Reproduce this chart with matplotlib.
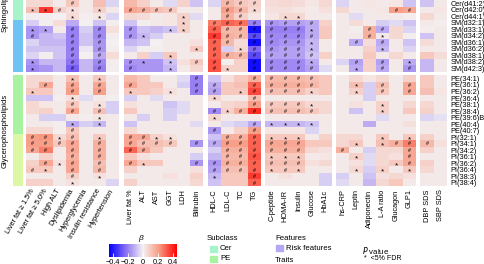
import numpy as np
import matplotlib.pyplot as plt
from matplotlib.colors import LinearSegmentedColormap, ListedColormap, Normalize
from matplotlib.patches import Rectangle
import matplotlib as mpl

plt.rcParams['font.family'] = ['Liberation Sans', 'DejaVu Sans']
plt.rcParams['font.size'] = 5.3

# ---- data ----
lipids = ['Cer(d41:2)', 'Cer(d42:0)', 'Cer(d44:1)', 'SM(d32:1)', 'SM(d33:1)',
          'SM(d34:2)', 'SM(d36:1)', 'SM(d36:2)', 'SM(d38:1)', 'SM(d38:2)',
          'SM(d42:3)',
          'PE(34:1)', 'PE(36:1)', 'PE(36:2)', 'PE(36:4)', 'PE(38:1)', 'PE(38:4)',
          'PE(39:6)B', 'PE(40:4)', 'PE(40:7)', 'PI(32:1)', 'PI(34:1)', 'PI(34:2)',
          'PI(36:1)', 'PI(36:2)', 'PI(36:4)', 'PI(38:3)', 'PI(38:4)']
row_blocks = [('Sphingolipids', 11), ('Glycerophospholipids', 17)]

col_groups = [
    ['Liver fat ≥ 1.5%', 'Liver fat ≥ 5.0%', 'High ALT', 'Dyslipidemia',
     'Hyperglycemia', 'Insulin resistance', 'Hypertension'],
    ['Liver fat %', 'ALT', 'AST', 'GGT', 'LDH', 'Bilirubin'],
    ['HDL-C', 'LDL-C', 'TC', 'TG'],
    ['C-peptide', 'HOMA-IR', 'Insulin', 'Glucose', 'HbA1c'],
    ['hs-CRP', 'Leptin', 'Adiponectin', 'L-A ratio', 'Glucagon', 'GLP1'],
    ['DBP SDS', 'SBP SDS'],
]

beta = [
    [0.06, 0.06, 0.02, 0.10, 0.02, 0.12, -0.05, 0.14, 0.08, 0.02, -0.04, 0.08, -0.08, -0.05, 0.14, 0.10, 0.08, 0.05, 0.06, 0.05, 0.03, 0.06, -0.05, 0.02, 0.03, 0.02, 0.03, -0.08, -0.08, 0.02],
    [0.12, 0.36, 0.08, 0.04, 0.02, 0.08, 0.02, 0.18, 0.16, 0.12, 0.10, 0.02, 0.02, 0.02, 0.20, 0.14, 0.06, 0.04, 0.04, 0.03, 0.02, 0.04, 0.06, 0.02, 0.02, 0.03, 0.20, 0.18, 0.02, 0.03],
    [0.01, 0.01, 0.00, 0.05, 0.01, 0.03, -0.05, 0.06, 0.05, 0.02, 0.03, 0.08, -0.04, 0.02, 0.16, 0.08, 0.03, 0.03, 0.06, 0.06, 0.02, 0.02, 0.02, -0.04, 0.02, 0.02, 0.02, 0.01, 0.06, 0.02],
    [-0.06, 0.01, 0.05, -0.12, 0.00, -0.08, 0.01, -0.08, 0.01, 0.02, 0.03, 0.08, 0.02, 0.26, 0.30, 0.28, -0.20, -0.16, -0.14, -0.14, -0.12, 0.08, 0.02, 0.05, 0.02, -0.06, -0.04, -0.08, 0.02, 0.01],
    [-0.16, -0.14, 0.02, -0.20, -0.06, -0.18, 0.04, -0.16, -0.08, -0.10, -0.08, 0.08, 0.02, 0.30, 0.14, 0.14, -0.42, -0.20, -0.20, -0.20, -0.12, 0.10, 0.02, 0.01, 0.16, -0.12, 0.06, -0.05, 0.01, 0.02],
    [-0.16, -0.10, -0.08, -0.20, -0.08, -0.18, 0.01, -0.16, -0.10, -0.06, 0.02, 0.02, 0.02, 0.36, 0.16, 0.14, -0.30, -0.18, -0.18, -0.18, -0.12, 0.10, 0.02, 0.02, 0.16, 0.02, 0.06, 0.01, -0.08, 0.02],
    [-0.05, -0.10, -0.10, -0.20, -0.08, -0.16, 0.00, -0.10, -0.08, 0.00, 0.02, 0.02, 0.04, 0.30, 0.14, 0.05, -0.42, -0.18, -0.16, -0.16, -0.10, 0.02, 0.02, -0.12, 0.05, -0.12, 0.02, -0.08, 0.05, 0.02],
    [-0.08, -0.08, -0.08, -0.20, -0.02, -0.16, 0.01, -0.05, 0.01, 0.01, 0.02, 0.02, 0.10, 0.30, -0.06, 0.06, -0.24, -0.16, -0.14, -0.14, -0.10, 0.02, 0.02, 0.02, 0.08, -0.10, 0.02, -0.05, 0.02, 0.02],
    [-0.05, 0.01, -0.08, -0.20, 0.00, -0.12, 0.05, 0.02, 0.08, -0.06, 0.10, 0.02, 0.02, 0.30, 0.16, 0.14, -0.30, -0.14, -0.14, -0.14, -0.08, 0.08, 0.02, 0.02, 0.10, 0.02, 0.06, 0.02, 0.10, 0.05],
    [-0.16, -0.10, -0.10, -0.22, -0.10, -0.18, 0.01, -0.16, -0.16, -0.16, -0.08, 0.04, 0.10, 0.32, 0.01, 0.08, -0.42, -0.18, -0.18, -0.18, -0.12, 0.02, -0.05, -0.14, 0.08, -0.14, 0.02, -0.12, -0.10, 0.02],
    [-0.18, -0.16, -0.10, -0.26, -0.10, -0.20, 0.01, -0.18, -0.16, -0.16, -0.10, 0.02, 0.06, 0.32, 0.08, 0.08, -0.42, -0.18, -0.18, -0.18, -0.14, -0.04, 0.02, -0.12, 0.08, -0.12, 0.02, -0.16, -0.10, 0.02],
    [0.06, 0.06, 0.02, 0.12, 0.02, 0.10, 0.02, 0.14, 0.10, 0.02, 0.02, -0.04, -0.20, -0.08, 0.04, 0.10, 0.16, 0.14, 0.14, 0.14, 0.12, 0.10, 0.02, 0.06, 0.03, 0.06, 0.02, 0.08, 0.10, 0.02],
    [0.06, 0.18, 0.02, 0.18, 0.02, 0.18, 0.02, 0.18, 0.10, 0.10, 0.02, -0.06, -0.20, -0.12, 0.10, 0.12, 0.30, 0.16, 0.16, 0.16, 0.14, 0.10, 0.02, 0.12, -0.06, 0.12, 0.02, 0.18, 0.10, 0.02],
    [0.10, 0.10, 0.02, 0.20, 0.02, 0.20, 0.02, 0.10, 0.10, 0.08, 0.04, 0.02, -0.20, -0.14, 0.10, 0.10, 0.34, 0.12, 0.12, 0.12, 0.08, 0.10, 0.02, 0.08, -0.06, 0.10, 0.02, 0.18, 0.12, 0.03],
    [-0.08, -0.08, 0.01, 0.04, -0.04, 0.02, 0.01, -0.06, 0.02, -0.04, 0.02, 0.02, 0.02, 0.06, 0.02, 0.02, 0.12, 0.02, 0.02, 0.02, 0.02, 0.02, 0.02, 0.02, -0.06, 0.02, 0.02, 0.02, 0.02, 0.02],
    [0.06, 0.03, 0.02, 0.10, 0.02, 0.04, -0.06, 0.04, 0.02, 0.02, -0.08, -0.04, 0.02, 0.02, 0.06, 0.08, 0.20, 0.10, 0.10, 0.10, 0.06, 0.06, 0.02, 0.04, 0.02, 0.08, 0.02, 0.06, 0.06, 0.02],
    [0.06, 0.08, 0.02, 0.18, 0.02, 0.12, -0.06, 0.10, 0.02, 0.02, -0.06, -0.04, 0.02, -0.18, 0.08, 0.16, 0.38, 0.12, 0.12, 0.12, 0.10, 0.06, 0.02, -0.08, 0.02, 0.08, 0.02, 0.10, 0.08, 0.02],
    [0.02, -0.06, -0.06, 0.02, 0.01, 0.03, 0.02, 0.02, -0.06, 0.02, -0.06, 0.02, 0.02, 0.06, 0.02, 0.02, 0.02, 0.02, 0.02, 0.02, 0.02, 0.02, 0.02, 0.02, 0.02, -0.04, 0.02, 0.02, -0.05, -0.03],
    [0.02, 0.02, 0.01, -0.12, -0.06, -0.10, 0.02, -0.08, 0.02, 0.02, 0.02, 0.02, -0.04, 0.02, -0.04, -0.06, -0.12, -0.10, -0.10, -0.10, -0.08, 0.02, 0.02, 0.02, -0.12, 0.02, 0.02, 0.04, 0.02, 0.02],
    [0.06, 0.06, 0.01, 0.10, 0.02, 0.02, 0.02, 0.06, 0.02, 0.02, 0.02, 0.02, 0.02, -0.16, 0.02, 0.08, 0.20, 0.03, 0.03, 0.03, -0.05, 0.02, 0.02, 0.02, 0.02, 0.02, 0.02, 0.02, 0.02, 0.02],
    [0.20, 0.22, 0.06, 0.12, 0.02, 0.10, 0.02, 0.18, 0.18, 0.08, 0.04, 0.02, 0.02, -0.08, 0.16, 0.16, 0.30, 0.10, 0.10, 0.10, 0.02, 0.08, 0.06, 0.06, 0.02, 0.10, 0.02, 0.10, 0.08, 0.02],
    [0.20, 0.20, 0.10, 0.18, 0.02, 0.16, 0.02, 0.18, 0.12, 0.12, 0.10, 0.02, -0.16, -0.12, 0.20, 0.20, 0.30, 0.18, 0.18, 0.18, 0.10, 0.10, 0.06, 0.10, 0.02, 0.12, 0.16, 0.26, 0.14, 0.04],
    [0.18, 0.26, 0.02, 0.18, 0.02, 0.16, 0.02, 0.30, 0.18, 0.10, 0.02, 0.02, 0.02, -0.06, 0.16, 0.16, 0.30, 0.16, 0.16, 0.16, 0.06, 0.04, 0.16, 0.02, -0.06, 0.06, 0.06, 0.18, 0.08, 0.02],
    [0.02, 0.08, 0.02, 0.16, 0.02, 0.16, 0.02, 0.10, 0.04, 0.02, 0.02, 0.02, -0.06, -0.10, 0.14, 0.14, 0.32, 0.10, 0.10, 0.10, 0.02, 0.03, 0.02, 0.08, -0.04, 0.06, 0.04, 0.18, 0.02, 0.02],
    [0.08, 0.18, 0.04, 0.18, 0.02, 0.12, 0.02, 0.18, 0.10, 0.10, 0.02, 0.02, -0.16, -0.16, 0.16, 0.16, 0.30, 0.12, 0.12, 0.12, 0.04, 0.06, 0.02, 0.04, -0.04, 0.06, 0.10, 0.18, 0.08, 0.02],
    [0.10, 0.10, 0.02, 0.18, 0.02, 0.14, 0.02, 0.08, 0.02, 0.02, 0.02, 0.02, 0.04, -0.14, 0.12, 0.12, 0.30, 0.10, 0.10, 0.10, 0.02, 0.02, 0.02, 0.06, -0.06, 0.08, 0.02, 0.10, 0.06, 0.02],
    [0.02, 0.02, 0.02, 0.08, 0.02, 0.04, 0.02, 0.02, 0.02, 0.02, 0.04, 0.02, 0.08, -0.10, 0.10, 0.10, 0.36, 0.02, 0.04, 0.02, 0.02, -0.06, -0.06, 0.02, -0.08, 0.04, 0.06, 0.04, 0.02, 0.02],
    [0.08, 0.08, 0.02, 0.04, 0.02, 0.02, -0.05, 0.08, 0.02, 0.02, 0.02, 0.02, 0.06, -0.08, 0.10, 0.10, 0.30, 0.02, 0.02, 0.02, 0.02, -0.06, -0.04, 0.02, -0.10, 0.06, 0.10, 0.02, 0.02, 0.02],
]

# '*' = <5% FDR, '#' = stronger; groups separated by spaces
marks = [
    '...#... ...... .### ..... ...... ..',
    '**#*.*. ####.. .##* ..... ....## ..',
    '...*.*. ....*. .##. .**.. ...... ..',
    '....... ....*. #### ####. ...... ..',
    '**.#.#. #..**. #### ###*. ..##.. ..',
    '#..#.#. #*.... #### ####. ..#*.. ..',
    '...#.#. ...... ##.# ###*. .#.#.. ..',
    '...#.#. .....* #.*# ###*. ...*.. ..',
    '...#.#. ...*.. #### ####. ...... ..',
    '*..#.#. #*.*.# #..# ###*. .#.#.* ..',
    '*..#.#. #..*.. #*.# ####. .*.#.# ..',
    '...*.*. .....# ...# ####. ...... ..',
    '.#.#.#. #....# #..# ####. .*.#.# ..',
    '*..#.#. *..*.# #.*# ###*. .*.#.# ..',
    '...*... ...... *..# ..... ...... ..',
    '...#.*. ...... ...# ###*. ...*.. ..',
    '...#.#. ...... #*## ####. ...*.. ..',
    '.....*. ...... *... ..... ...... ..',
    '...*.*. ...... ...# ****. ...... ..',
    '...#... ...... #..# ..... ...... ..',
    '##*#.*. ##**.. .### ***.. ...*.* ..',
    '####.#. ####.# #### ###.. .*.*## #.',
    '##.#.#. ##.... .### ###.. #....# ..',
    '...#.#. ...... .### ***.. .*...# ..',
    '.#*#.#. #*...# #### ###.. ....*# ..',
    '#*.#.#. ...... #### *#*.. .*.*.* ..',
    '...#.*. ...... *..# ..... ...... ..',
    '...*... ...... ...# ..... ...... ..',
]

subclass_colors = {'Cer': '#a9f3cb', 'SM': '#6fc3f2', 'PE': '#a8f2a2', 'PI': '#dcf8a4'}

# ---- layout helpers (pixel boxes, origin top-left) ----
W, H = 485, 264
def box(x0, y0, w, h):
    return [x0 / W, 1 - (y0 + h) / H, w / W, h / H]

cmap = LinearSegmentedColormap.from_list(
    'beta', ['#0000ff', '#8c70f2', '#f4f1f3', '#f8957c', '#ff0000'])
norm = Normalize(-0.45, 0.45)

B = np.array(beta)
M = [m.replace(' ', '') for m in marks]
columns = [c for g in col_groups for c in g]

gx, gy = 0.33, 0.54
xl, pos = [], 0.0
for g in col_groups:
    for _ in g:
        xl.append(pos)
        pos += 1
    pos += gx
xmax = pos - gx
yt, pos = [], 0.0
for _, n in row_blocks:
    for _ in range(n):
        yt.append(pos)
        pos += 1
    pos += gy
ymax = pos - gy
xl, yt = np.array(xl), np.array(yt)

fig = plt.figure(figsize=(4.85, 2.64), dpi=100)
ax = fig.add_axes(box(26, 0, 421, 186))

r0 = 0
for _, n in row_blocks:
    c0 = 0
    for g in col_groups:
        k = len(g)
        ax.pcolormesh(xl[c0] + np.arange(k + 1), yt[r0] + np.arange(n + 1),
                      B[r0:r0 + n, c0:c0 + k], cmap=cmap, norm=norm)
        c0 += k
    r0 += n

for i, row in enumerate(M):
    for j, m in enumerate(row):
        if m == '.':
            continue
        if m == '*':
            ax.text(xl[j] + 0.5, yt[i] + 0.5 + 0.35, m, ha='center', va='center',
                    fontsize=6, color='black')
        else:
            ax.text(xl[j] + 0.5, yt[i] + 0.55, m, ha='center', va='center',
                    fontsize=3.9, color='black')

ax.set_xlim(0, xmax)
ax.set_ylim(ymax, 0)
for s in ax.spines.values():
    s.set_visible(False)
ax.set_yticks(yt + 0.5)
ax.set_yticklabels(lipids)
ax.yaxis.tick_right()
ax.set_xticks(xl + 0.5)
ax.set_xticklabels(columns)
ax.tick_params(length=0, pad=2.5)
for j, t in enumerate(ax.get_xticklabels()):
    if j < len(col_groups[0]):
        t.set_rotation(60)
        t.set_ha('right')
        t.set_va('center')
        t.set_rotation_mode('anchor')
    else:
        t.set_rotation(90)
        t.set_ha('center')
        t.set_va('top')

# subclass side bar
sb = fig.add_axes(box(13, 0, 10, 186))
sub_names = list(subclass_colors)
idx = np.array([[sub_names.index(l.split('(')[0])] for l in lipids])
r0 = 0
for _, n in row_blocks:
    sb.pcolormesh([0, 1], yt[r0] + np.arange(n + 1), idx[r0:r0 + n],
                  cmap=ListedColormap(list(subclass_colors.values())),
                  vmin=-0.5, vmax=len(sub_names) - 0.5)
    r0 += n
sb.set_xlim(0, 1)
sb.set_ylim(ymax, 0)
sb.axis('off')

fig.text(5 / W, 1 - 32 / H, row_blocks[0][0], rotation=90, ha='center', va='bottom', fontsize=5.6)
fig.text(5 / W, 1 - 131 / H, row_blocks[1][0], rotation=90, ha='center', va='center', fontsize=5.6)

# colour bar
cax = fig.add_axes(box(109, 244, 68, 13))
cb = fig.colorbar(mpl.cm.ScalarMappable(norm=norm, cmap=cmap), cax=cax,
                  orientation='horizontal', ticks=[-0.4, -0.2, 0, 0.2, 0.4])
cb.outline.set_visible(False)
cb.ax.set_xticklabels(['−0.4', '−0.2', '0', '0.2', '0.4'])
cb.ax.tick_params(length=3, width=0.6, color='white', direction='in', pad=1.5, labelsize=5.3)
fig.text(141 / W, 1 - 238 / H, 'β', ha='center', va='center', fontsize=6, style='italic')

# legends
def legend_title(x, y, s):
    fig.text(x / W, 1 - y / H, s, ha='left', va='center', fontsize=5.6)

def legend_item(x, y, color, s):
    fig.patches.append(Rectangle((x / W, 1 - (y + 3) / H), 7 / W, 6 / H,
                                 transform=fig.transFigure, color=color, figure=fig))
    fig.text((x + 10) / W, 1 - y / H, s, ha='left', va='center', fontsize=5.6)

legend_title(207, 238, 'Subclass')
legend_item(210, 249, subclass_colors['Cer'], 'Cer')
legend_item(210, 259, subclass_colors['PE'], 'PE')
legend_title(275, 238, 'Features')
legend_item(276, 248, '#b3a8f2', 'Risk features')
legend_title(275, 260, 'Traits')
fig.text(362 / W, 1 - 250 / H, '$P$ value', ha='left', va='center', fontsize=5.6)
fig.text(364 / W, 1 - 259 / H, '*  <5% FDR', ha='left', va='center', fontsize=5)

fig.savefig('out.png', dpi=100)
